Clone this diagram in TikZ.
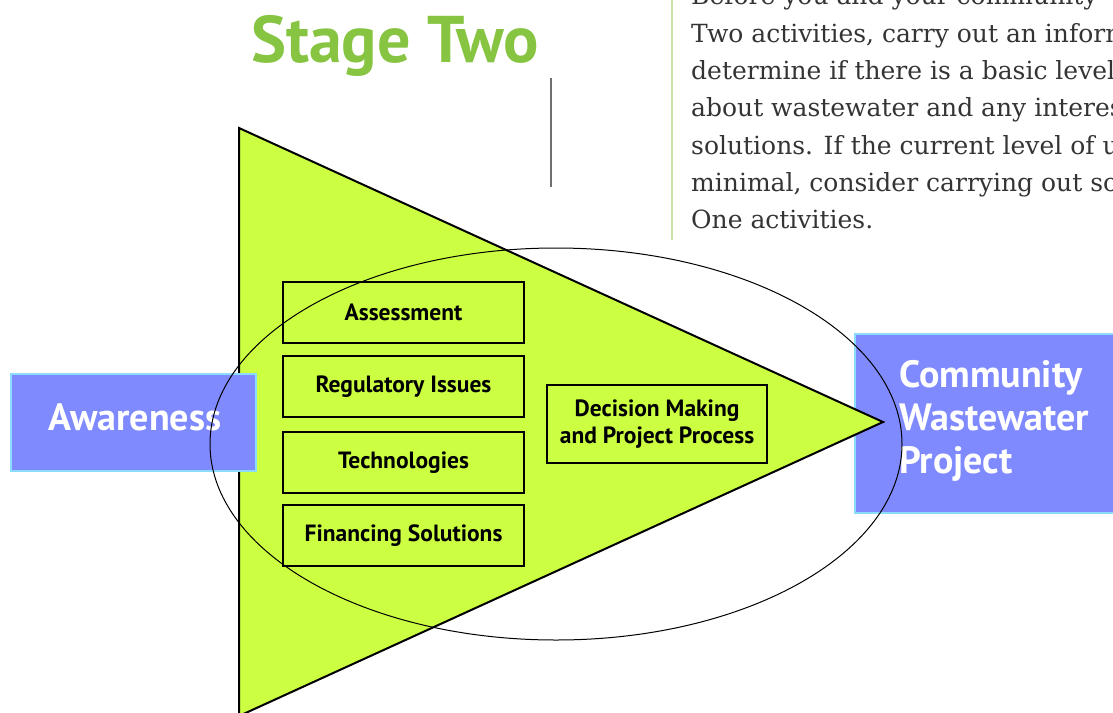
\documentclass[tikz,border=0pt]{standalone}
\usepackage{fontspec}
\newfontfamily\sansb{PT Sans}
\newfontfamily\bodyserif{DejaVu Serif}
\definecolor{trigreen}{RGB}{204,255,66}
\definecolor{boxblue}{RGB}{128,138,255}
\definecolor{boxedge}{RGB}{140,220,255}
\definecolor{titlegreen}{RGB}{134,196,65}
\definecolor{rulegreen}{RGB}{200,228,160}
\definecolor{rulegray}{RGB}{112,112,112}
\definecolor{bodytext}{RGB}{52,52,52}
\tikzset{
  item/.style={draw=black, line width=2pt, minimum width=241pt, minimum height=61pt,
    inner sep=0pt, font=\sansb\bfseries\fontsize{23.5}{27}\selectfont, align=center},
  bluebox/.style={fill=boxblue, draw=boxedge, line width=2pt, inner sep=0pt},
  bodyline/.style={anchor=base west, inner sep=0pt, text=bodytext,
    font=\bodyserif\fontsize{25}{30}\selectfont}
}
\begin{document}
\begin{tikzpicture}[x=1pt,y=-1pt]
\useasboundingbox (0,0) rectangle (1113,712);
\clip (0,0) rectangle (1113,712);
% community box (under triangle)
\node[bluebox, minimum width=270pt, minimum height=179pt] (cwp) at (990,423.5) {};
\node[anchor=base west, inner sep=0pt, text=white, align=left,
  font=\sansb\bfseries\fontsize{38}{43}\selectfont] (cwptext) at (899,387)
  {Community};
\node[anchor=base west, inner sep=0pt, text=white,
  font=\sansb\bfseries\fontsize{38}{43}\selectfont] (cwptext2) at (899,430)
  {Wastewater};
\node[anchor=base west, inner sep=0pt, text=white,
  font=\sansb\bfseries\fontsize{38}{43}\selectfont] (cwptext3) at (899,473)
  {Project};
% triangle
\draw[fill=trigreen, line width=2pt, line join=miter] (239,128) coordinate (ta)
  -- (883,422) coordinate (tb) -- (239,716) coordinate (tc) -- cycle;
% awareness box
\node[bluebox, minimum width=245pt, minimum height=97pt] (aw) at (133.5,422.5) {};
\node[anchor=base, inner sep=0pt, text=white,
  font=\sansb\bfseries\fontsize{38}{40}\selectfont] (awtext) at (135,430) {Awareness};
% inner boxes
\node[item] (assess) at (403.5,312.5) {Assessment};
\node[item] (reg) at (403.5,386.5) {Regulatory Issues};
\node[item] (tech) at (403.5,462.5) {Technologies};
\node[item] (fin) at (403.5,535.5) {Financing Solutions};
\node[item, minimum width=220pt, minimum height=78pt,
  font=\sansb\bfseries\fontsize{23.5}{27}\selectfont] (dec) at (657,424)
  {Decision Making\\and Project Process};
% ellipse
\draw[line width=1pt] (556,444) ellipse [x radius=346, y radius=196];
% title
\node[anchor=base, inner sep=0pt, text=titlegreen,
  font=\sansb\bfseries\fontsize{66}{70}\selectfont] (title) at (395,62) {Stage Two};
% rules
\draw[rulegray, line width=2pt] (551,78) coordinate (g1) -- (551,187) coordinate (g2);
\draw[rulegreen, line width=2pt] (672,-2) coordinate (r1) -- (672,240) coordinate (r2);
% body text
\node[bodyline] (l1) at (691,4.7) {Before you and your community};
\node[bodyline] (l2) at (691,42) {Two activities, carry out an informal};
\node[bodyline] (l3) at (691,79.3) {determine if there is a basic level};
\node[bodyline] (l4) at (691,116.6) {about wastewater and any interest};
\node[bodyline] (l5) at (691,154) {solutions. If the current level of understanding};
\node[bodyline] (l6) at (691,191.3) {minimal, consider carrying out some};
\node[bodyline] (l7) at (691,228.6) {One activities.};
\end{tikzpicture}
\end{document}
